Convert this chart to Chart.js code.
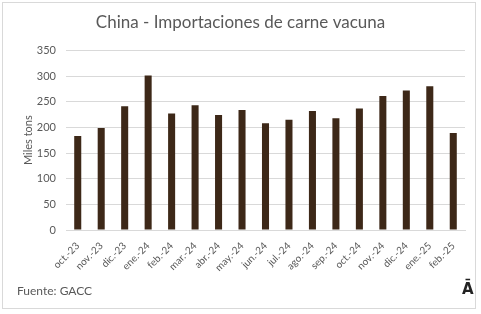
<!DOCTYPE html>
<html>
<head>
<meta charset="utf-8">
<script src="https://cdn.jsdelivr.net/npm/chart.js@4"></script>
<style>
  html, body { margin: 0; padding: 0; background: #fff; }
  #wrap { position: relative; width: 481px; height: 314px; background: #fff; }
  #frame { position: absolute; left: 2px; top: 2px; width: 474px; height: 307px; border: 1px solid #d9d9d9; box-sizing: border-box; }
  canvas { position: absolute; left: 0; top: 0; }
  #fuente { position: absolute; left: 17px; top: 283px; font: 12px Lato, "Open Sans", sans-serif; color: #595959; }
  #logo { position: absolute; left: 462px; top: 280px; font: bold 15px "DejaVu Sans", sans-serif; color: #222; }
</style>
</head>
<body>
<div id="wrap">
  <canvas id="myChart" width="481" height="314"></canvas>
  <div id="frame"></div>
  <div id="fuente">Fuente: GACC</div>
  <div id="logo">Ā</div>
</div>
<script>
// months (x axis)
var months = ["oct.-23", "nov.-23", "dic.-23", "ene.-24", "feb.-24", "mar.-24", "abr.-24", "may.-24",
  "jun.-24", "jul.-24", "ago.-24", "sep.-24", "oct.-24", "nov.-24", "dic.-24", "ene.-25", "feb.-25"];
// imports, thousand tons
var imports = [183, 199, 241, 301, 227, 243, 224, 234, 208, 215, 232, 218, 237, 261, 272, 280, 189];
var yTicks = [0, 50, 100, 150, 200, 250, 300, 350];

var ctx = document.getElementById("myChart").getContext("2d");
var chart = new Chart(ctx, {
  type: "bar",
  data: {
    labels: months,
    datasets: [{
      label: "Importaciones",
      data: imports,
      backgroundColor: "#3d2818",
      barPercentage: 0.3,
      categoryPercentage: 1
    }]
  },
  options: {
    responsive: false,
    animation: false,
    layout: { padding: { left: 16, right: 16, top: 4, bottom: 0 } },
    plugins: {
      legend: { display: false },
      tooltip: { enabled: false },
      title: {
        display: true,
        text: "China - Importaciones de carne vacuna",
        color: "#595959",
        font: { family: "Lato", size: 17, weight: "normal" },
        padding: { top: 8, bottom: 18 }
      }
    },
    scales: {
      x: {
        grid: { display: false },
        border: { color: "#d9d9d9" },
        afterFit: function (axis) { axis.height = 84; },
        ticks: {
          color: "#595959",
          font: { family: "Lato", size: 10 },
          maxRotation: 45,
          minRotation: 45,
          padding: 2
        }
      },
      y: {
        min: 0,
        max: 350,
        afterBuildTicks: function (axis) {
          axis.ticks = yTicks.map(function (v) { return { value: v }; });
        },
        afterFit: function (axis) { axis.width = 50; },
        grid: { color: "#d9d9d9", drawTicks: false },
        border: { display: false },
        ticks: {
          color: "#595959",
          font: { family: "Lato", size: 11 },
          padding: 10
        },
        title: {
          display: true,
          text: "Miles tons",
          color: "#595959",
          font: { family: "Lato", size: 11 },
          padding: { top: 6, bottom: 0 }
        }
      }
    }
  }
});
</script>
</body>
</html>
